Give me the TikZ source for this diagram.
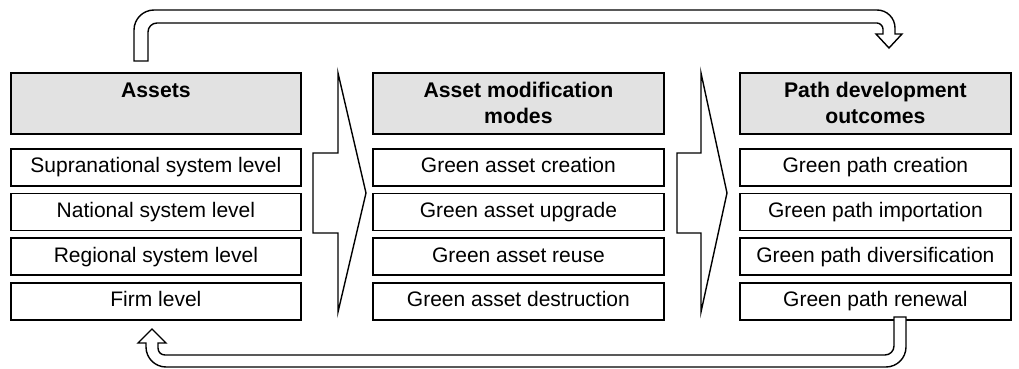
\documentclass[tikz,border=0pt]{standalone}
\usepackage{fontspec}
\setmainfont{Liberation Sans}
\usetikzlibrary{positioning}
\definecolor{headgray}{RGB}{226,226,226}
\tikzset{
	headbox/.style={draw,line width=0.9pt,fill=headgray,anchor=north west,
		minimum height=30.5pt,inner sep=0pt,align=center,
		font=\fontsize{10.6}{13}\selectfont\bfseries},
	itembox/.style={draw,line width=0.9pt,minimum height=18.5pt,inner sep=0pt,
		text height=7.6pt,text depth=2.2pt,font=\fontsize{10.5}{12}\selectfont},
	bigarrow/.style={draw,line width=0.7pt,fill=white},
}
\begin{document}
\begin{tikzpicture}[x=0.5pt,y=-0.5pt]
	\useasboundingbox (0,0) rectangle (1019,369);
	% headers
	\node[headbox,minimum width=145pt] (h1) at (10,72) {Assets\\~};
	\node[headbox,minimum width=145.5pt] (h2) at (372,72) {Asset modification\\modes};
	\node[headbox,minimum width=135.5pt] (h3) at (739,72) {Path development\\outcomes};
	% assets
	\node[itembox,minimum width=145pt,below=6.5pt of h1] (a1) {Supranational system level};
	\node[itembox,minimum width=145pt,below=3pt of a1] (a2) {National system level};
	\node[itembox,minimum width=145pt,below=3pt of a2] (a3) {Regional system level};
	\node[itembox,minimum width=145pt,below=3pt of a3] (a4) {Firm level};
	% modes
	\node[itembox,minimum width=145.5pt,below=6.5pt of h2] (m1) {Green asset creation};
	\node[itembox,minimum width=145.5pt,below=3pt of m1] (m2) {Green asset upgrade};
	\node[itembox,minimum width=145.5pt,below=3pt of m2] (m3) {Green asset reuse};
	\node[itembox,minimum width=145.5pt,below=3pt of m3] (m4) {Green asset destruction};
	% outcomes
	\node[itembox,minimum width=135.5pt,below=6.5pt of h3] (o1) {Green path creation};
	\node[itembox,minimum width=135.5pt,below=3pt of o1] (o2) {Green path importation};
	\node[itembox,minimum width=135.5pt,below=3pt of o2] (o3) {Green path diversification};
	\node[itembox,minimum width=135.5pt,below=3pt of o3] (o4) {Green path renewal};
	% chevrons between the columns
	\draw[line width=0.7pt] (338,73)--(366,193)--(338,312)--(338,233)--(313,233)--(313,153)--(338,153)--cycle;
	\draw[line width=0.7pt] (701,73)--(727,193)--(701,312)--(701,233)--(677,233)--(677,153)--(701,153)--cycle;
	% feedback arrows
	\draw[bigarrow] (134,61)--(134,30) .. controls (134,19) and (143,10) .. (154,10)
		--(877,10) .. controls (887,10) and (895,18) .. (895,28)
		--(895,34)--(902,34)--(889,48)--(876,34)--(883,34)--(883,29)
		.. controls (883,26) and (880,23) .. (877,23)
		--(157,23) .. controls (152,23) and (148,27) .. (148,32)
		--(148,61)--cycle;
	\draw[bigarrow] (894,317)--(906,317)--(906,347) .. controls (906,358) and (897,367) .. (886,367)
		--(166,367) .. controls (155,367) and (146,358) .. (146,347)
		--(146,343)--(138,343)--(152,329)--(166,343)--(158,343)--(158,348)
		.. controls (158,352) and (161,355) .. (165,355)
		--(885,355) .. controls (890,355) and (894,351) .. (894,346)--cycle;
\end{tikzpicture}
\end{document}
